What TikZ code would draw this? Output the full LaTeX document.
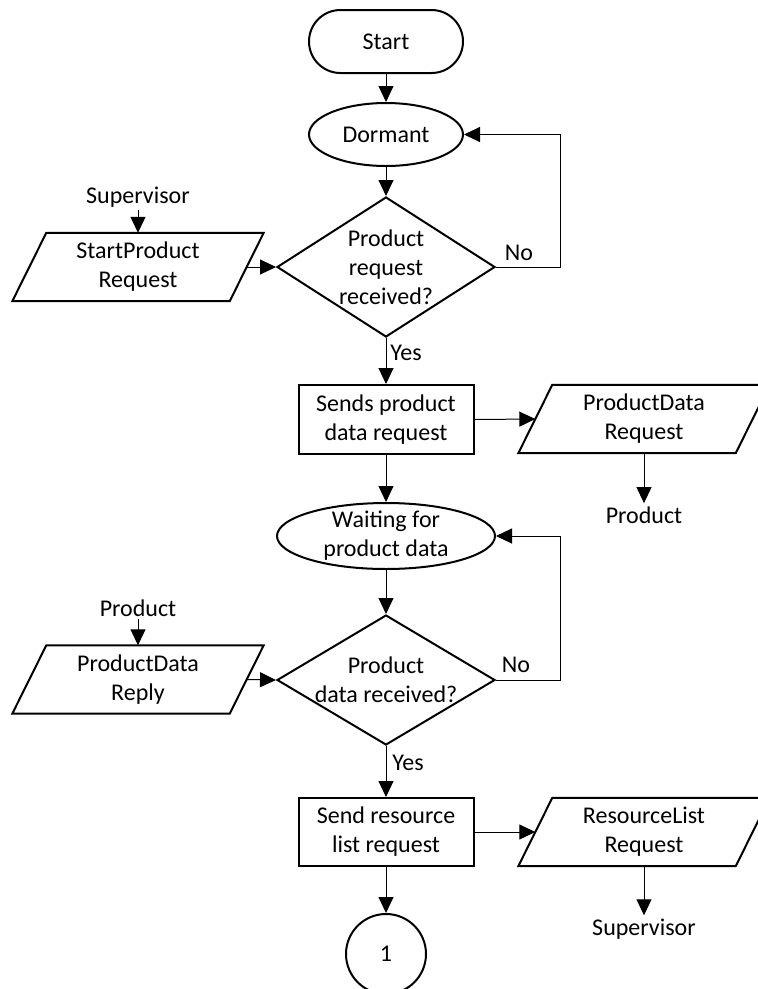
\documentclass[tikz,border=0pt]{standalone}
\usepackage{fontspec}
\setmainfont{Carlito}
\usetikzlibrary{arrows.meta,shapes.geometric,calc}
\begin{document}
\begin{tikzpicture}[x=1pt,y=-1pt,
  every node/.style={font=\fontsize{24}{29}\selectfont, inner sep=0pt},
  outline/.style={draw, line width=2pt},
  terminal/.style={outline, rounded corners=31.5pt, minimum width=154pt, minimum height=63pt},
  state/.style={outline, ellipse},
  decision/.style={outline, diamond, minimum width=218pt},
  process/.style={outline, align=center, minimum width=175pt, minimum height=69pt},
  io/.style={align=center, minimum width=217pt, minimum height=68pt},
  conn/.style={outline, circle, minimum size=80pt},
  ext/.style={inner sep=3pt, anchor=base},
  flow/.style={line width=1pt, -{Triangle[length=16pt,width=15pt]}},
  lbl/.style={anchor=center}
]
\useasboundingbox (0,0) rectangle (758,989);
\clip (0,0) rectangle (758,989);

% main column
\node[terminal] (start) at (386,41.5) {Start};
\node[state, minimum width=154pt, minimum height=63pt] (dormant) at (386,134.5) {Dormant};
\node[decision, minimum height=140pt] (q1) at (386,267) {};
\node[align=center] (q1txt) at (q1) {Product\\request\\received?};
\node[process] (send1) at (386,419.5) {Sends product\\data request};
\node[state, minimum width=218pt, minimum height=66pt] (wait) at (386,536) {};
\node[align=center] (waittxt) at (wait) {Waiting for\\product data};
\node[decision, minimum height=130pt] (q2) at (386,680) {};
\node[align=center] (q2txt) at (q2) {Product\\data received?};
\node[process, minimum height=68pt] (send2) at (386,832) {Send resource\\list request};
\node[conn] (c1) at (386,954) {1};

% messages in and out
\node[io] (spr) at (138,267) {StartProduct\\Request};
\node[ext] (sup1) at (138,203) {Supervisor};
\node[io] (pdq) at (644,419) {ProductData\\Request};
\node[ext] (prod1) at (644,523) {Product};
\node[io] (pdr) at (138,679.5) {ProductData\\Reply};
\node[ext] (prod2) at (138,616) {Product};
\node[io] (rlq) at (644,832) {ResourceList\\Request};
\node[ext] (sup2) at (644,935) {Supervisor};

% parallelogram outlines of the message nodes
\foreach \n in {spr,pdq,pdr,rlq}
  \draw[outline] ([xshift=-17pt]\n.south west) -- ([xshift=-17pt]\n.south east)
    -- ([xshift=17pt]\n.north east) -- ([xshift=17pt]\n.north west) -- cycle;

% flow
\draw[flow] (start) -- (dormant);
\draw[flow] (dormant) -- (q1.north);
\draw[flow] (q1.south) -- (send1);
\draw[flow] (send1) -- (wait.north);
\draw[flow] (wait.south) -- (q2.north);
\draw[flow] (q2.south) -- (send2);
\draw[flow] (send2) -- (c1);

% retry loops
\coordinate (loopx) at (560,0);
\draw[flow] (q1.east) -| (loopx |- dormant.east) -- (dormant.east);
\draw[flow] (q2.east) -| (loopx |- wait.east) -- (wait.east);

% message links
\draw[flow] (sup1.south) -- (spr.north);
\draw[flow] (spr.east) -- (q1.west);
\draw[flow] (send1.east) -- (pdq.west);
\draw[flow] (pdq.south) -- (prod1.north);
\draw[flow] (prod2.south) -- (pdr.north);
\draw[flow] (pdr.east) -- (q2.west);
\draw[flow] (send2.east) -- (rlq.west);
\draw[flow] (rlq.south) -- (sup2.north);

% branch labels
\node[lbl] (no1) at ($(q1.east)+(23,-14)$) {No};
\node[lbl] (yes1) at ($(q1.south)+(20,15)$) {Yes};
\node[lbl] (no2) at ($(q2.east)+(20,-15)$) {No};
\node[lbl] (yes2) at ($(q2.south)+(22,17)$) {Yes};
\end{tikzpicture}
\end{document}
